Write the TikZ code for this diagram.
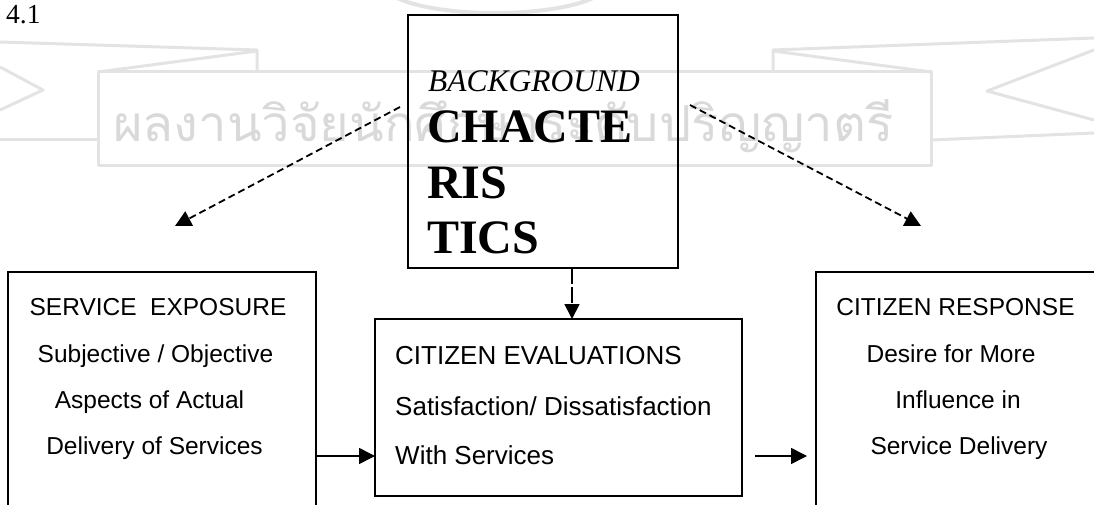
\documentclass[tikz,border=0pt]{standalone}
\usepackage{fontspec}
\setmainfont{Liberation Serif}
\setsansfont{Liberation Sans}
\newfontfamily\thaifont[Script=Thai]{Loma}
\usepackage{graphicx}
\usetikzlibrary{arrows.meta}

\begin{document}
\begin{tikzpicture}[x=1pt,y=-1pt,
  boxframe/.style={draw=black, line width=1.8pt, inner sep=0pt, outer sep=0pt, rectangle},
  sansA/.style={font=\sffamily\fontsize{24.5}{29}\selectfont, inner sep=0pt, anchor=base},
  sansB/.style={font=\sffamily\fontsize{26}{30}\selectfont, inner sep=0pt, anchor=base west},
  bigserif/.style={font=\bfseries\fontsize{48}{50}\selectfont, inner sep=0pt, anchor=base west},
  dashedarrow/.style={line width=1.8pt, dash pattern=on 7pt off 4pt, -{Triangle[length=16pt,width=16pt]}},
  solidarrow/.style={line width=1.7pt, -{Triangle[length=16pt,width=16pt]}},
  wm/.style={draw=gray!22, line width=3pt, line join=round}
]
\useasboundingbox (0,0) rectangle (1094,505);
\clip (0,0) rectangle (1094,505);

% watermark
\draw[wm] (0,42) -- (257,50) -- (257,72);
\draw[wm] (257,51) -- (98,72);
\draw[wm] (98,72) rectangle (931,166);
\draw[wm] (0,140) -- (98,140);
\draw[wm] (0,67) -- (43,90) -- (0,110);
\draw[wm] (1094,38) -- (773,50) -- (773,72);
\draw[wm] (773,51) -- (931,72);
\draw[wm] (931,140) -- (1094,133);
\draw[wm] (1094,50) -- (987,91) -- (1094,120);
\draw[draw=gray!22, line width=4pt] (397,-2) .. controls (440,18) and (550,18) .. (593,-2);
\node[anchor=base west, inner sep=0pt, text=gray!30] (wmtext) at (113,142)
  {\resizebox{780pt}{42pt}{\thaifont ผลงานวิจัยนักศึกษาระดับปริญญาตรี}};

% label
\node[anchor=base west, inner sep=0pt, font=\fontsize{27.5}{30}\selectfont] (num) at (6,24) {4.1};

% boxes
\node[boxframe, minimum width=270pt, minimum height=253pt] (T) at (543,141.5) {};
\node[boxframe, minimum width=308pt, minimum height=260pt] (L) at (162,402) {};
\node[boxframe, minimum width=367pt, minimum height=177pt] (M) at (558.5,407.5) {};
\node[boxframe, minimum width=300pt, minimum height=260pt] (R) at (966,402) {};

% top box text
\node[anchor=base west, inner sep=0pt, font=\itshape\fontsize{31.5}{33}\selectfont] (bg) at (428,92) {BACKGROUND};
\node[bigserif] (t1) at (427,142.5) {CHACTE};
\node[bigserif] (t2) at (427,199) {RIS};
\node[bigserif] (t3) at (427,253) {TICS};

% left box text
\node[sansA] (l1) at (158,315) {SERVICE\hspace{0.55em}EXPOSURE};
\node[sansA] (l2) at (155.5,362) {Subjective / Objective};
\node[sansA] (l3) at (149.5,408) {Aspects of Actual};
\node[sansA] (l4) at (154.5,454) {Delivery of Services};

% middle box text
\node[sansB] (m1) at (395,364) {CITIZEN EVALUATIONS};
\node[sansB] (m2) at (395,415) {Satisfaction/ Dissatisfaction};
\node[sansB] (m3) at (395,464) {With Services};

% right box text
\node[sansA] (r1) at (955.5,315) {CITIZEN RESPONSE};
\node[sansA] (r2) at (951,362) {Desire for More};
\node[sansA] (r3) at (958,408) {Influence in};
\node[sansA] (r4) at (959,454) {Service Delivery};

% connectors
\coordinate (dl1) at (400,107);
\coordinate (dl2) at (175,226);
\coordinate (dr1) at (690,105);
\coordinate (dr2) at (921,226);
\draw[dashedarrow] (dl1) -- (dl2);
\draw[dashedarrow] (dr1) -- (dr2);
\coordinate (vx) at (572,0);
\draw[line width=1.8pt, dash pattern=on 16pt off 3pt, -{Triangle[length=15pt,width=15pt]}] (T.south -| vx) -- (M.north -| vx);
\coordinate (hy) at (0,456);
\draw[solidarrow] (L.east |- hy) -- (M.west |- hy);
\coordinate (mr1) at (755,456);
\coordinate (mr2) at (807,456);
\draw[solidarrow] (mr1) -- (mr2);
\end{tikzpicture}
\end{document}
